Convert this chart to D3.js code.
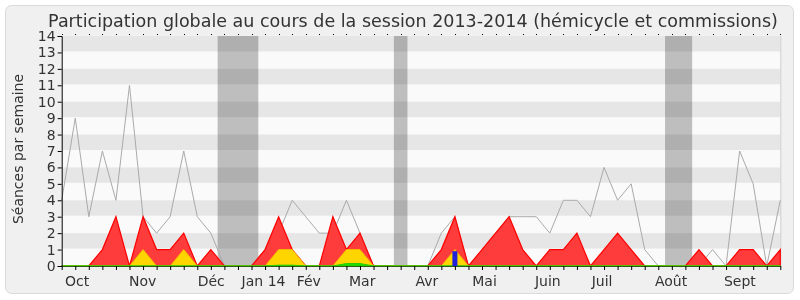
<!DOCTYPE html>
<html>
<head>
<meta charset="utf-8">
<script src="https://cdn.jsdelivr.net/npm/d3@7"></script>
<style>
  body { margin: 0; background: #fff; }
  svg { display: block; font-family: "DejaVu Sans", Verdana, sans-serif; }
</style>
</head>
<body>
<svg id="grafica" width="800" height="300"></svg>
<script>
// semaines de la session (index 0 = debut octobre 2013)
var presenceMediane = [4, 9, 3, 7, 4, 11, 3, 2, 3, 7, 3, 2, 0, 0, 0, 1, 2, 4, 3, 2, 2, 4, 2, 0, 0, 0, 0, 0, 2, 3,
  0, 1, 2, 3, 3, 3, 2, 4, 4, 3, 6, 4, 5, 1, 0, 0, 0, 0, 1, 0, 7, 5, 0, 4];
var presenceCommission = [0, 0, 0, 1, 3, 0, 3, 1, 1, 2, 0, 1, 0, 0, 0, 1, 3, 1, 0, 0, 3, 1, 2, 0, 0, 0, 0, 0, 1, 3,
  0, 1, 2, 3, 1, 0, 1, 1, 2, 0, 1, 2, 1, 0, 0, 0, 0, 1, 0, 0, 1, 1, 0, 1];
var participationCommission = [0, 0, 0, 0, 0, 0, 1, 0, 0, 1, 0, 0, 0, 0, 0, 0, 1, 1, 0, 0, 0, 1, 1, 0, 0, 0, 0, 0, 0, 1,
  0, 0, 0, 0, 0, 0, 0, 0, 0, 0, 0, 0, 0, 0, 0, 0, 0, 0, 0, 0, 0, 0, 0, 0];
var participationHemicycle = [0, 0, 0, 0, 0, 0, 0, 0, 0, 0, 0, 0, 0, 0, 0, 0, 0.05, 0.05, 0, 0, 0, 0.15, 0.15, 0, 0, 0, 0, 0, 0, 0,
  0, 0, 0, 0, 0, 0, 0, 0, 0, 0, 0, 0, 0, 0, 0, 0, 0, 0, 0, 0, 0, 0, 0, 0];
var questionsOrales = [{week: 29, value: 0.9}];

// vacances parlementaires (debut / fin en semaines)
var vacances = [[11.5, 14.5], [24.5, 25.5], [44.5, 46.5]];

// etiquettes de mois, position du debut du texte en semaines
var moisLabels = ["Oct", "Nov", "Déc", "Jan 14", "Fév", "Mar", "Avr", "Mai", "Juin", "Juil", "Août", "Sept"];
var moisPos = [0.24, 4.96, 10.03, 13.27, 17.33, 21.19, 26.1, 30.28, 34.9, 39.09, 43.75, 48.84];

var yTicks = d3.range(0, 15);

var svg = d3.select("#grafica");
var margin = {top: 36, bottom: 34, left: 62, right: 20};
var width = +svg.attr("width"), height = +svg.attr("height");
var nWeeks = presenceMediane.length;

var x = d3.scaleLinear().domain([0, nWeeks - 1]).range([61.7, 780.3]);
var y = d3.scaleLinear().domain([0, 14]).range([height - margin.bottom, margin.top]);

// fond
svg.append("rect")
  .attr("x", 5.5).attr("y", 5.5)
  .attr("width", 788).attr("height", 288)
  .attr("rx", 6)
  .attr("fill", "#f0f0f0")
  .attr("stroke", "#dadada");

svg.append("text")
  .attr("x", 413).attr("y", 27)
  .attr("text-anchor", "middle")
  .attr("font-size", 17.5)
  .attr("fill", "#333")
  .text("Participation globale au cours de la session 2013-2014 (hémicycle et commissions)");

// zone du graphique
var plot = svg.append("g");

plot.append("rect")
  .attr("x", x(0)).attr("y", y(14))
  .attr("width", x(nWeeks - 1) - x(0)).attr("height", y(0) - y(14))
  .attr("fill", "#fafafa");

plot.selectAll(".stripe")
  .data(yTicks.filter(d => d < 14 && d % 2 == 1))
  .enter().append("rect")
  .attr("class", "stripe")
  .attr("x", x(0))
  .attr("y", d => y(d + 1))
  .attr("width", x(nWeeks - 1) - x(0))
  .attr("height", d => y(d) - y(d + 1) - 1)
  .attr("fill", "#e6e6e6");

plot.selectAll(".vac")
  .data(vacances)
  .enter().append("rect")
  .attr("class", "vac")
  .attr("x", d => x(d[0]))
  .attr("y", y(14))
  .attr("width", d => x(d[1]) - x(d[0]))
  .attr("height", y(0) - y(14))
  .attr("fill", "#c2c2c2")
  .style("mix-blend-mode", "multiply");

plot.append("line")
  .attr("x1", x(nWeeks - 1) + 0.5).attr("x2", x(nWeeks - 1) + 0.5)
  .attr("y1", y(14)).attr("y2", y(0))
  .attr("stroke", "#d0d0d0");

var line = d3.line().x((d, i) => x(i)).y(d => y(d));
var area = d3.area().x((d, i) => x(i)).y0(y(0)).y1(d => y(d));

plot.append("path")
  .datum(presenceMediane)
  .attr("d", line)
  .attr("fill", "none")
  .attr("stroke", "#aaaaaa")
  .attr("stroke-width", 1);

plot.append("path")
  .datum(presenceCommission)
  .attr("d", area)
  .attr("fill", "#ff3c3c")
  .attr("stroke", "#ff0000")
  .attr("stroke-width", 1.2);

plot.append("path")
  .datum(participationCommission)
  .attr("d", area)
  .attr("fill", "#ffd500")
  .attr("stroke", "#f5b800")
  .attr("stroke-width", 1);

plot.append("path")
  .datum(participationHemicycle)
  .attr("d", area)
  .attr("fill", "#22dd00")
  .attr("stroke", "#22cc00")
  .attr("stroke-width", 1);

plot.selectAll(".qo")
  .data(questionsOrales)
  .enter().append("rect")
  .attr("class", "qo")
  .attr("x", d => x(d.week) - 2.5)
  .attr("y", d => y(d.value))
  .attr("width", 5)
  .attr("height", d => y(0) - y(d.value))
  .attr("fill", "#2020dd");

// axes
var yAxis = svg.append("g")
  .attr("transform", `translate(${x(0)},0)`)
  .call(d3.axisLeft(y).tickValues(yTicks).tickFormat(d3.format("d")).tickSize(4).tickPadding(2));
yAxis.selectAll("text").attr("font-size", 14).attr("fill", "#333").attr("font-family", "DejaVu Sans");
yAxis.select(".domain").attr("stroke", "#000");

var xAxis = svg.append("g")
  .attr("transform", `translate(0,${y(0)})`)
  .call(d3.axisBottom(x).tickValues(d3.range(nWeeks)).tickFormat("").tickSize(4).tickSizeOuter(0));
xAxis.select(".domain").attr("stroke", "#2e5e10");

// petites marques en haut
svg.append("g").selectAll("line")
  .data(d3.range(nWeeks))
  .enter().append("line")
  .attr("x1", d => Math.round(x(d)) + 0.5).attr("x2", d => Math.round(x(d)) + 0.5)
  .attr("y1", y(14) - 2).attr("y2", y(14) - 1)
  .attr("stroke", "#000");

svg.append("g").selectAll("text")
  .data(moisLabels)
  .enter().append("text")
  .attr("x", (d, i) => x(moisPos[i]))
  .attr("y", y(0) + 20)
  .attr("font-size", 14)
  .attr("fill", "#333")
  .text(d => d);

svg.append("text")
  .attr("transform", "translate(23,149) rotate(-90)")
  .attr("text-anchor", "middle")
  .attr("font-size", 14)
  .attr("fill", "#333")
  .text("Séances par semaine");
</script>
</body>
</html>
